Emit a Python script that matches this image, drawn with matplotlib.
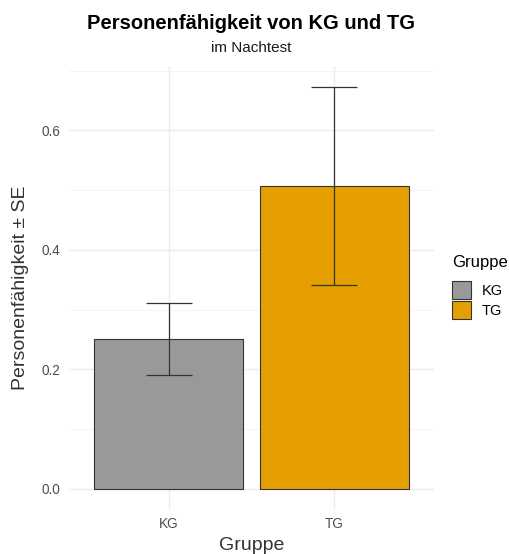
import matplotlib
matplotlib.use('Agg')
import matplotlib.pyplot as plt
import matplotlib.patches as mpatches
from matplotlib.ticker import MultipleLocator
import numpy as np

plt.rcParams['font.family'] = ['Liberation Sans', 'DejaVu Sans']

# Daten
gruppen = ['KG', 'TG']
mittelwerte = [0.251, 0.507]
se = [0.060, 0.166]
farben = ['#999999', '#E69F00']

fig = plt.figure(figsize=(5.09, 5.54), dpi=100)
ax = fig.add_axes([0.1356, 0.0812, 0.7171, 0.7986])

x = np.arange(1, len(gruppen) + 1)
ax.bar(x, mittelwerte, width=0.9, color=farben, edgecolor='#333333', linewidth=0.8, zorder=3)
ax.errorbar(x, mittelwerte, yerr=se, fmt='none', ecolor='#333333', elinewidth=0.9,
            capsize=16.5, capthick=0.9, zorder=4)

ymax = max(m + s for m, s in zip(mittelwerte, se))
ax.set_ylim(-0.05 * ymax, ymax * 1.05)
ax.set_xlim(0.4, 2.6)

ax.set_xticks(x)
ax.set_xticklabels(gruppen)
ax.yaxis.set_major_locator(MultipleLocator(0.2))
ax.yaxis.set_minor_locator(MultipleLocator(0.1))
ax.yaxis.set_major_formatter(matplotlib.ticker.FormatStrFormatter('%.1f'))

ax.grid(which='major', color='#EBEBEB', linewidth=1.0, zorder=0)
ax.grid(which='minor', axis='y', color='#F2F2F2', linewidth=0.6, zorder=0)
ax.set_axisbelow(True)
for s in ax.spines.values():
    s.set_visible(False)
ax.tick_params(which='both', length=0, colors='#4D4D4D', labelsize=9.8, pad=6)

ax.set_xlabel('Gruppe', fontsize=14, color='#333333', labelpad=4)
ax.set_ylabel('Personenfähigkeit ± SE', fontsize=14, color='#333333', labelpad=9)

fig.text(0.494, 0.958, 'Personenfähigkeit von KG und TG', ha='center', va='center',
         fontsize=14.5, fontweight='bold', color='black')
fig.text(0.494, 0.913, 'im Nachtest', ha='center', va='center', fontsize=11, color='#1A1A1A')

handles = [mpatches.Patch(facecolor=f, edgecolor='#333333', linewidth=0.8, label=g)
           for g, f in zip(gruppen, farben)]
leg = fig.legend(handles=handles, title='Gruppe', loc='center left',
                 bbox_to_anchor=(0.874, 0.482), frameon=False, fontsize=10.5,
                 title_fontsize=12, handlelength=1.3, handleheight=1.5,
                 handletextpad=0.7, labelspacing=0.15, borderpad=0)
leg._legend_box.align = 'left'
leg._legend_box.sep = 8

fig.savefig('out.png', dpi=100)
